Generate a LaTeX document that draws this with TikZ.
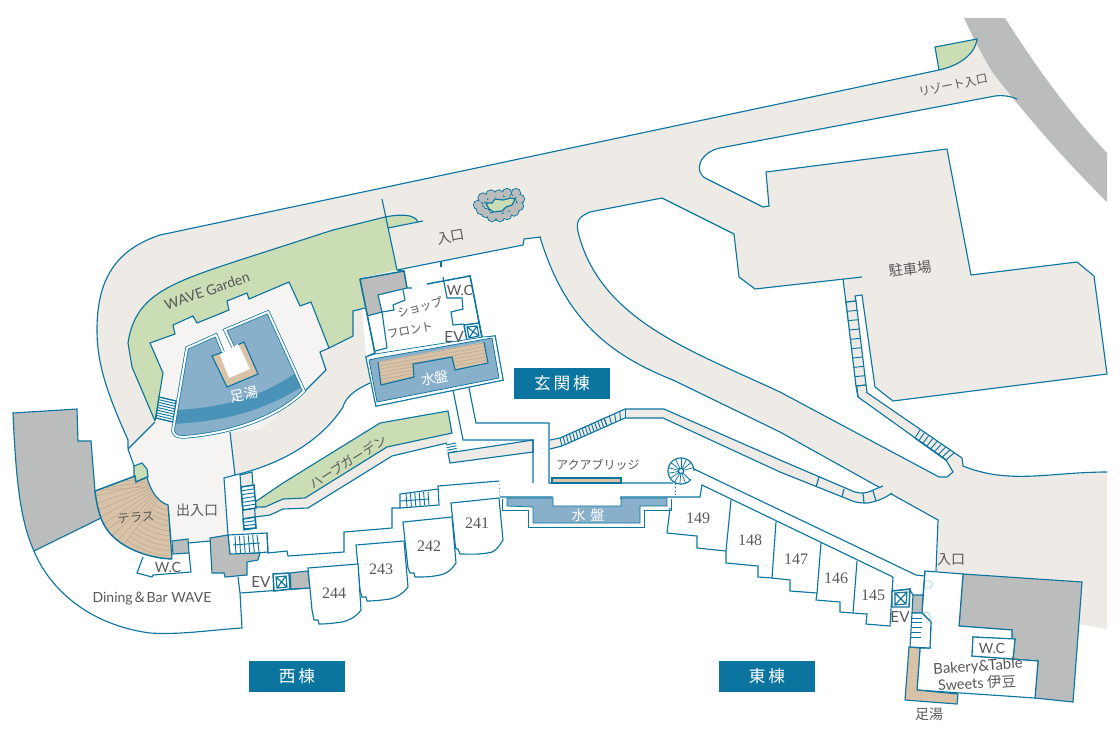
\documentclass[tikz,border=0pt]{standalone}
\usepackage{fontspec}
\setmainfont{Lato}
\newfontfamily\cjk{Noto Sans CJK JP}
\newfontfamily\numf{Liberation Serif}
\usetikzlibrary{calc}
\definecolor{teal}{HTML}{0B759F}
\definecolor{roadc}{HTML}{EEEBE7}
\definecolor{greenc}{HTML}{CBDDB4}
\definecolor{patioc}{HTML}{F5F4F3}
\definecolor{grayc}{HTML}{BBBDBC}
\definecolor{bluec}{HTML}{88B0CB}
\definecolor{darkb}{HTML}{4A93B8}
\definecolor{beigec}{HTML}{D8C3A8}
\definecolor{txt}{HTML}{595757}
\definecolor{hatchc}{HTML}{B8A58E}
\definecolor{doorc}{HTML}{9CCBDD}
\tikzset{
  wall/.style={draw=teal,line width=0.85pt,line join=miter},
  thin wall/.style={draw=teal,line width=0.55pt,line join=miter},
  thick wall/.style={draw=teal,line width=1.1pt,line join=miter},
  lab/.style={text=txt,font=\cjk\fontsize{10.5}{12}\selectfont,inner sep=0pt},
  lab small/.style={text=txt,font=\cjk\fontsize{9}{11}\selectfont,inner sep=0pt},
  lat/.style={text=txt,font=\fontsize{10.5}{12}\selectfont,inner sep=0pt},
  lat big/.style={text=txt,font=\fontsize{11.5}{13}\selectfont,inner sep=0pt},
  num/.style={text=txt,font=\numf\fontsize{12}{14}\selectfont,inner sep=0pt},
  wlab/.style={text=white,font=\cjk\fontsize{10.5}{12}\selectfont,inner sep=0pt},
  banner/.style={fill=teal,text=white,font=\cjk\fontsize{12.5}{14}\selectfont,minimum width=72pt,minimum height=23.2pt,inner sep=0pt},
  rung/.style={draw=teal,line width=0.7pt},
  hatch/.style={draw=hatchc,line width=0.35pt},
}
\newcommand{\rungs}[5]{\foreach \i in {0,...,#5}{\pgfmathsetmacro\tt{\i/#5}\draw[rung] ($#1!\tt!#2$) -- ($#3!\tt!#4$);}}
\begin{document}
\begin{tikzpicture}[x=0.75pt,y=-0.75pt]
\useasboundingbox (0,0) rectangle (1120,740);
% ---- big road
\fill[roadc] (128,448) -- (128,440) .. controls (108,395) and (97,365) .. (97,330)
  .. controls (97,280) and (115,250) .. (160,235) -- (939,70)
  .. controls (958,66) and (975,55) .. (977,39) -- (1017,99)
  .. controls (1010,96) and (1003,95) .. (995,96) -- (720,148)
  .. controls (700,152) and (692,172) .. (707,179) -- (763,207) -- (769,206) -- (766,172) -- (947,149)
  -- (971,275) -- (1077,262) -- (1094,276) -- (1107,374) -- (893,401) -- (875,387) -- (862,295) -- (855,296)
  -- (866,392) -- (962,458) -- (963,466) .. controls (1010,485) and (1050,472) .. (1107,472)
  -- (1107,629) -- (936,600) -- (938,520) -- (780,432) -- (673,380)
  .. controls (610,355) and (565,320) .. (540,237) -- (524,239) -- (523,245) -- (397,270) -- (360,278)
  -- (366,357) -- (370,383) .. controls (350,392) and (345,400) .. (343,407)
  .. controls (325,435) and (290,462) .. (235,475) -- (230,432) -- (155,422) -- cycle;
% gray band
\fill[grayc] (964,18) -- (1005,18) .. controls (1033,62) and (1065,108) .. (1107,153) -- (1107,202)
  .. controls (1062,158) and (1020,108) .. (993,73) .. controls (985,60) and (975,42) .. cycle;
% corner green
\path[fill=greenc,wall] (939,70) -- (935,47) -- (977,39) .. controls (975,55) and (958,66) .. cycle;
% road strokes
\draw[wall] (128,448) -- (128,440) .. controls (108,395) and (97,365) .. (97,330)
  .. controls (97,280) and (115,250) .. (160,235) -- (939,70);
\draw[wall] (1017,99) .. controls (1010,96) and (1003,95) .. (995,96) -- (720,148)
  .. controls (700,152) and (692,172) .. (707,179) -- (763,207) -- (769,206) -- (766,172) -- (947,149)
  -- (971,275) -- (1077,262) -- (1094,276) -- (1107,374) -- (893,401) -- (875,387) -- (862,295) -- (855,296) -- (856,301);
\draw[wall] (962,458) -- (963,466) .. controls (1010,485) and (1050,472) .. (1107,472);
% island
\path[fill=white,wall] (843,279) -- (858,397) -- (946,460) -- (953,472) -- (947,477) -- (939,477) -- (780,392)
  .. controls (690,350) and (600,320) .. (578,232) .. controls (576,222) and (578,217) .. (590,212)
  -- (662,198) -- (734,234) -- (739,277) -- (755,289) -- (862,277);
% path roof strip near stairs
\draw[wall] (866,392) -- (962,458);
\path[fill=roadc,wall] (846,302) -- (856,301) -- (866,385) -- (856,386) -- cycle;
\rungs{(846,302)}{(856,386)}{(856,301)}{(866,385)}{9}
\draw[wall] (856,386) -- (858,397) (866,385) -- (867,392);
\rungs{(915,438)}{(946,460)}{(920,430)}{(954,453)}{8}
\draw[thick wall] (915,438) -- (946,460);
% lower road edge
\draw[wall] (541,237) -- (524,239) -- (523,245) -- (397,270);
\draw[wall] (441,262) -- (441,267);
\draw[wall] (540,237) .. controls (565,320) and (610,355) .. (673,380) -- (780,432) -- (938,520) -- (936,571);
% pond
\begin{scope}
  \foreach \x/\y/\r in {478/205/4.5,483/198/5,491/195/5,499/195/5,507/193/4.5,516/193/4.5,520/199/4.5,519/206/4.5,514/211/5,507/215/4.5,500/217/4.5,496/214/4,492/217/4.5,486/213/4.5,481/210/4.5}{
    \draw[wall] (\x,\y) circle[radius=\r*0.75pt];}
  \foreach \x/\y/\r in {478/205/4.5,483/198/5,491/195/5,499/195/5,507/193/4.5,516/193/4.5,520/199/4.5,519/206/4.5,514/211/5,507/215/4.5,500/217/4.5,496/214/4,492/217/4.5,486/213/4.5,481/210/4.5}{
    \fill[grayc] (\x,\y) circle[radius={(\r-0.4)*0.75pt}];}
  \fill[grayc] (482,205) -- (490,198) -- (515,196) -- (516,208) -- (498,214) -- cycle;
  \path[fill=greenc,wall] (486,203) -- (492,203) -- (495,199) -- (503,200) -- (511,198) -- (515,199) -- (512,205) -- (506,207) -- (502,211) -- (494,212) -- (489,209) -- cycle;
\end{scope}
% green garden
\fill[greenc] (388,228) -- (418,222) .. controls (415,214) and (400,214) .. (385,217) -- (333,230) -- (240,260)
  .. controls (170,283) and (135,295) .. (128,343) -- (132,367) -- (155,421) -- (163,373) -- (150,343) -- (175,334)
  -- (173,325) -- (193,316) -- (197,323) -- (229,310) -- (227,301) -- (247,293) -- (249,299) -- (289,282) -- (300,306)
  -- (311,302) -- (329,348) -- (353,336) -- (353,311) -- (365,308) -- (360,278) -- (397,270) -- cycle;
\draw[wall] (423,221) -- (388,228);
\draw[wall] (418,222) .. controls (415,214) and (400,214) .. (385,217) -- (333,230) -- (240,260)
  .. controls (170,283) and (135,295) .. (128,343) -- (132,367) -- (155,421);
\draw[wall] (382,199) -- (397,270);
% patio
\path[fill=patioc,draw=none] (155,421) -- (163,373) -- (150,343) -- (175,334)
  -- (173,325) -- (193,316) -- (197,323) -- (229,310) -- (227,301) -- (247,293) -- (249,299) -- (289,282) -- (300,306)
  -- (311,302) -- (329,348) -- (320,352) -- (326,370) -- (304,392) -- (260,430) -- (230,432) -- (235,475) -- (224,478)
  -- (228,535) -- (210,541) -- (188,543) -- (172,541) -- (168,505) -- (152,490) -- (148,480) -- (134,466) -- (128,449) -- cycle;
\draw[wall] (155,421) -- (163,373) -- (150,343) -- (175,334)
  -- (173,325) -- (193,316) -- (197,323) -- (229,310) -- (227,301) -- (247,293) -- (249,299) -- (289,282) -- (300,306)
  -- (311,302) -- (329,348) -- (353,336) -- (353,311) -- (365,308);
\draw[wall] (329,348) -- (320,352) -- (326,370) -- (304,392);
\draw[wall] (230,432) -- (235,475) -- (224,478) -- (228,535);
\draw[wall] (128,449) -- (155,422);
\draw[wall] (128,449) -- (134,466);
\draw[wall] (168,505) -- (171,540);
\draw[wall] (188,543) -- (210,541);
\draw[wall] (370,383) .. controls (350,392) and (345,400) .. (343,407) .. controls (325,435) and (290,462) .. (235,475);
% pool stairs
\path[fill=white,wall] (159,397) -- (176,401) -- (173,422) -- (156,418) -- cycle;
\rungs{(159,397)}{(156,418)}{(176,401)}{(173,422)}{8}
% pool
\fill[bluec] (187,348) -- (268,312) -- (304,391)
  .. controls (280,415) and (237,433) .. (183,437) .. controls (176,437) and (173,434) .. (173,430) -- cycle;
\begin{scope}
  \clip (187,348) -- (216,335) -- (268,312) -- (304,391)
  .. controls (280,415) and (237,433) .. (183,437) .. controls (176,437) and (173,434) .. (173,430) -- cycle;
  \fill[darkb] (175,410) .. controls (225,408) and (265,395) .. (297,372) -- (303,386)
    .. controls (265,410) and (225,422) .. (170,424) -- cycle;
\end{scope}
\path[fill=beigec,wall] (212,356) -- (223,352) -- (233,347) -- (244,342) -- (258,374) -- (227,387) -- cycle;
\fill[white] (217,333) -- (225,330) -- (233,347) -- (238,344) -- (250,369) -- (229,378) -- (220,355) -- (223,352) -- cycle;
\draw[draw=teal,double=white,line width=0.55pt,double distance=1.5pt,line join=miter]
  (223,352) -- (216,335) -- (187,348) -- (173,430) .. controls (173,434) and (176,437) .. (183,437)
  .. controls (237,433) and (280,415) .. (304,391) -- (268,312) -- (225,330) -- (233,347);
% herb garden band
\path[fill=roadc] (255,507) -- (265,507) -- (283,499) -- (305,498) -- (387,447) -- (452,433) -- (447,443) -- (392,456) -- (308,508) -- (283,509) -- (270,515) -- (255,517) -- cycle;
\draw[wall] (255,517) -- (270,515) -- (283,509) -- (308,508) -- (392,456) -- (447,443);
\path[fill=greenc,wall] (255,502) -- (283,483) -- (380,423) -- (448,411) -- (452,433) -- (387,447) -- (305,498) -- (283,499) -- (265,507) -- (255,507) -- cycle;
% small walk
\path[fill=roadc,wall] (448,453) -- (533,440) -- (533,452) -- (450,463) -- cycle;
\rungs{(446,445)}{(448,453)}{(456,443)}{(457,451)}{3}
% walls below water
\draw[wall] (453,390) -- (463,440) -- (533,440) -- (533,483);
\draw[wall] (469,388) -- (476,423) -- (549,423) -- (549,483) -- (673,483);
\draw[wall] (500,497) -- (552,497) -- (553,506) -- (620,506) -- (621,497) -- (675,497);
\draw[draw=teal,dotted,line width=0.6pt] (499,481) -- (500,497) (675,483) -- (675,497);
% west wing walls
\draw[wall] (499,481) -- (438,486) -- (439,505) -- (400,508) -- (400,494) -- (438,489);
\draw[wall] (400,508) -- (392,508) -- (392,528) -- (344,532) -- (344,552) -- (288,556) -- (287,551) -- (268,553) -- (267,533) -- (228,535);
\draw[wall] (268,553) -- (267,533);
\rungs{(406,493)}{(428,492)}{(407,507)}{(429,505)}{5}
\draw[rung] (400,501) -- (429,499);
\path[wall] (228,535) -- (230,555) -- (268,552);
\rungs{(235,536)}{(257,535)}{(236,554)}{(259,552)}{5}
\draw[rung] (233,545) -- (260,543);
% vertical stair bar
\path[fill=roadc,wall] (240,475) -- (252,472) -- (256,528) -- (244,530) -- cycle;
\path[fill=white,thick wall] (241,487) -- (254,485) -- (256,508) -- (243,510) -- cycle;
\rungs{(241,487)}{(243,510)}{(254,485)}{(256,508)}{6}
\path[fill=white,thick wall] (243,519) -- (255,517) -- (256,528) -- (244,529) -- cycle;
\rungs{(243,519)}{(244,529)}{(255,517)}{(256,528)}{3}
% gray block west
\path[fill=grayc,wall] (210,538) -- (228,535) -- (230,554) -- (260,553) -- (258,560) -- (247,562) -- (247,575) -- (225,577) -- (224,573) -- (212,573) -- cycle;
\draw[wall] (238,577) -- (240,593) -- (242,628) .. controls (210,630) and (180,635) .. (150,633)
  .. controls (90,625) and (50,590) .. (34,551);
\draw[wall] (240,593) -- (310,588);
\path[fill=grayc,wall] (290,573) -- (308,571) -- (310,588) -- (291,589) -- cycle;
\path[fill=white,thick wall] (273,574) -- (289,573) -- (290,589) -- (274,591) -- cycle;
\draw[wall] (276,577) -- (286,576) -- (287,587) -- (277,588) -- cycle (276,577) -- (287,587) (286,576) -- (277,588);
% gray big west
\path[fill=grayc,wall] (13,413) -- (77,409) -- (78,441) -- (91,441) -- (95,491) -- (101,518) -- (34,551)
  .. controls (20,520) and (16,480) .. cycle;
% terrace
\path[fill=greenc,wall] (134,466) -- (142,463) -- (147,469) -- (148,477) -- (136,482) -- (134,475) -- cycle;
\def\terr{(95,491) -- (135,476) -- (136,482) -- (147,477) .. controls (150,490) and (158,502) .. (168,505) -- (172,559)
  .. controls (145,558) and (110,545) .. (101,518) .. controls (98,510) and (96,500) .. cycle}
\path[fill=beigec,draw=none] \terr;
\begin{scope}
  \clip \terr;
  \foreach \a in {127,132,...,200} {\draw[hatch] ({174+20*cos(\a)},{478+20*sin(\a)}) -- ({174+95*cos(\a)},{478+95*sin(\a)});}
  \foreach \r in {33,38,...,83} {\draw[hatch] plot[domain=88:127,samples=10] ({174+\r*cos(\x)},{478+\r*sin(\x)});}
  \draw[hatch] (100,490) -- (146,487);
\end{scope}
\draw[thick wall] (172,559) .. controls (145,558) and (110,545) .. (101,518) .. controls (98,510) and (96,500) .. (95,491) -- (135,476) -- (136,482) -- (147,477);
\draw[wall] (147,477) .. controls (150,490) and (158,502) .. (168,505) -- (172,559);
% terrace wc + gray
\path[fill=grayc,wall] (172,541) -- (188,539) -- (189,553) -- (173,554) -- cycle;
\draw[wall] (143,557) -- (137,573) -- (152,577) -- (153,575) -- (191,572) -- (189,553);
% west shops
\path[fill=white,wall] (451,503) -- (499,498) -- (503,540) .. controls (498,548) and (495,551) .. (492,552) .. controls (480,555) and (470,554) .. (460,554) -- (458,549) -- (456,549) -- (455,543) -- cycle;
\path[fill=white,wall] (403,522) -- (452,517) -- (456,563) .. controls (450,572) and (445,574) .. (440,575) .. controls (430,577) and (425,577) .. (415,577) -- (414,573) -- (410,573) -- (408,568) -- cycle;
\path[fill=white,wall] (356,545) -- (404,541) -- (408,587) .. controls (403,594) and (397,597) .. (390,599) .. controls (382,600) and (375,601) .. (367,601) -- (366,597) -- (362,597) -- (360,590) -- cycle;
\path[fill=white,wall] (308,568) -- (358,564) -- (361,610) .. controls (356,617) and (350,620) .. (342,622) .. controls (335,623) and (328,624) .. (319,624) -- (318,620) -- (314,620) -- (312,610) -- cycle;
% mid walkway with stairs
\path[fill=roadc] (550,440) -- (560,438) -- (625,409) -- (664,409) -- (780,460) -- (860,493) -- (873,490) -- (892,484) -- (892,493) .. controls (880,500) and (872,503) .. (863,503) .. controls (858,503) and (854,502) .. (850,500) -- (780,472) -- (663,418) -- (625,418) -- (562,446) -- (550,449) -- cycle;
\draw[wall] (550,440) -- (560,438) -- (625,409) -- (664,409) -- (780,460) -- (850,490) .. controls (858,494) and (866,494) .. (873,490) -- (883,486);
\draw[wall] (550,449) -- (562,446) -- (625,418) -- (663,418) -- (780,472) -- (850,500) .. controls (856,503) and (862,503) .. (868,503) .. controls (878,501) and (885,498) .. (892,493);
\rungs{(560,438)}{(604,418)}{(562,446)}{(607,426)}{14}
\rungs{(604,418)}{(625,409)}{(607,426)}{(625,418)}{4}
\draw[wall] (819,477) -- (816,487) (844,489) -- (842,497) (863,493) -- (864,503) (873,491) -- (876,501);
% aqua bridge beige
\path[fill=beigec,wall] (552,483) -- (552,478) -- (621,478) -- (621,483) -- cycle;
% aqua water
\path[fill=white,thin wall] (502,499) -- (502,510) -- (528,510) -- (528,527) -- (644,527) -- (644,510) -- (671,510) -- (671,499);
\path[fill=bluec,thin wall] (507,498) -- (507,506) -- (533,507) -- (533,523) -- (640,523) -- (640,506) -- (667,506) -- (667,498) -- (621,498) -- (621,506) -- (553,506) -- (553,498) -- cycle;
% spiral
\coordinate (sp) at (681,471);
\fill[white] (sp) circle[radius=9.75pt];
\foreach \a in {45,70,...,360} {\draw[rung,line width=0.55pt] ($(sp)+({2.5*cos(\a)},{2.5*sin(\a)})$) -- ($(sp)+({13*cos(\a)},{13*sin(\a)})$);}
\draw[wall] plot[domain=40:360,samples=50] ({681+13*cos(\x)},{471+13*sin(\x)});
\draw[wall] (sp) circle[radius=1.9pt];
\draw[draw=teal,dotted,line width=0.6pt] (675,484) -- (675,497);
% east wing
\draw[wall] (694,469) -- (916,575) -- (925,576);
\draw[wall] (675,497) -- (700,497) -- (702,485) -- (893,577);
\draw[wall] (670,508) -- (667,533) -- (697,536) -- (697,548) -- (726,551) -- (731,500);
\draw[wall] (726,551) -- (726,563) -- (758,566) -- (758,577) -- (772,578) -- (776,522);
\draw[wall] (772,578) -- (790,580) -- (790,591) -- (817,593) -- (821,543);
\draw[wall] (817,593) -- (816,600) -- (840,602) -- (840,612) -- (853,613) -- (857,561);
\draw[wall] (853,613) -- (867,614) -- (866,624) -- (890,626) -- (893,577);
% east EV
\path[fill=white,thick wall] (892,591) -- (910,589) -- (909,607) -- (892,607) -- cycle;
\draw[wall] (895,593) -- (907,592) -- (906,604) -- (895,605) -- cycle (895,593) -- (906,604) (907,592) -- (895,605);
% bakery
\path[fill=grayc,wall] (963,574) -- (1082,582) -- (1073,702) -- (1035,698) -- (1038,661) -- (1013,659) -- (1015,639) -- (1012,639) -- (1012,630) -- (959,626) -- cycle;
\path[fill=white,wall] (925,571) -- (963,574) -- (959,626) -- (1012,630) -- (1012,639) -- (973,637) -- (972,656) -- (1038,661) -- (1035,698) -- (917,690) -- (920,648) -- (930,648) -- (931,622) -- (922,613) -- cycle;
\path[fill=white,wall] (973,637) -- (1015,639) -- (1013,659) -- (972,656) -- cycle;
\path[fill=beigec,wall] (909,647) -- (920,648) -- (917,690) -- (958,694) -- (957,704) -- (905,700) -- cycle;
\draw[wall] (925,571) -- (923,595);
\path[fill=grayc,wall] (913,595) -- (923,595) -- (922,613) -- (912,613) -- cycle;
\draw[wall] (910,590) -- (913,595);
\path[fill=white,wall] (912,613) -- (922,613) -- (931,622) -- (930,648) -- (910,647) -- cycle;
\rungs{(912,618)}{(911,637)}{(922,618)}{(921,637)}{4}
\draw[doorc,line width=0.5pt] (925,581) .. controls (930,580) and (934,582) .. (932,586) .. controls (931,588) and (928,589) .. (925,588);
\draw[doorc,line width=0.5pt] (922,613) .. controls (926,610) and (932,613) .. (931,622);
% --- building genkan
\path[fill=white,thick wall] (360,279) -- (375,353) -- (366,357) -- (376,406) -- (503,380) -- (495,336) -- (482,338) -- (470,276) -- (443,281);
\draw[wall] (397,270) -- (404,271);
\path[fill=white,draw=none] (360,279) -- (404,271) -- (470,276) -- (482,338) -- (375,353) -- cycle;
\path[fill=grayc,draw=none] (360,279) -- (404,271) -- (407,288) -- (378,295) -- (382,312) -- (367,316) -- cycle;
\draw[thick wall] (360,279) -- (404,271) -- (407,288) -- (412,288);
\draw[thick wall] (360,279) -- (375,353);
\draw[thick wall] (427,284) -- (470,276) -- (482,338);
\draw[wall] (443,277) -- (447,298) -- (462,298) -- (463,309) -- (451,312) -- (453,325) -- (464,324);
\draw[wall] (407,288) -- (378,295) -- (382,312) -- (367,316) (382,312) -- (394,310) -- (393,305) -- (405,300) -- (403,290);
\draw[wall] (382,312) -- (387,348) -- (375,351);
% EV genkan
\path[fill=white,thick wall] (464,325) -- (479,323) -- (482,338) -- (467,341) -- cycle;
\draw[wall] (467,327) -- (477,326) -- (479,336) -- (469,338) -- cycle (467,327) -- (479,336) (477,326) -- (469,338);
% water genkan
\path[fill=white,thin wall] (366,357) -- (375,354) -- (483,337) -- (495,336) -- (503,380) -- (376,406) -- cycle;
\path[fill=bluec,thin wall] (369,360) -- (378,358) -- (492,338) -- (499,378) -- (377,402) -- cycle;
\def\deck{(377,362) -- (484,342) -- (488,363) -- (455,370) -- (452,357) -- (413,364) -- (414,377) -- (381,385) -- cycle}
\path[fill=beigec] \deck;
\begin{scope}
  \clip \deck;
  \foreach \k in {0,3.5,...,45} {\draw[hatch] (370,{364+\k}) -- (495,{341+\k});}
\end{scope}
\draw[wall] (378,362) -- (381,385) -- (414,377) -- (413,364) -- (452,357) -- (455,370) -- (488,363) -- (484,342);
% labels
\node[banner] (bgenkan) at (562,383.5) {玄\,関\,棟};
\node[banner] (bwest) at (297,676.5) {西\,棟};
\node[banner] (beast) at (767,676.5) {東\,棟};
\node[lab small,rotate=12,font=\cjk\fontsize{8.8}{11}\selectfont] (resort) at (953,85) {リゾート入口};
\node[lab,rotate=10] (iri1) at (451,237) {入口};
\node[lab,rotate=7,font=\cjk\fontsize{10.7}{12}\selectfont] (park) at (910,269) {駐車場};
\node[lat,rotate=19] (wave) at (207,291) {WAVE Garden};
\node[wlab,rotate=12] (ashi1) at (244,394) {足湯};
\node[lab small,rotate=16,font=\cjk\fontsize{8.7}{11}\selectfont] (shop) at (420,307) {ショップ};
\node[lab small,rotate=11,font=\cjk\fontsize{8.7}{11}\selectfont] (front) at (410,330) {フロント};
\node[lat] (wc1) at (460,290) {W.C};
\node[lat big] (ev1) at (454,337) {EV};
\node[wlab,rotate=10] (mizu1) at (435,378) {水盤};
\node[lab small,rotate=32,font=\cjk\fontsize{9.5}{11}\selectfont] (herb) at (348,462) {ハーブガーデン};
\node[lab small] (aqua) at (598,465) {アクアブリッジ};
\node[wlab] (mizu2) at (588,515) {水\,\,盤};
\node[lab small,rotate=5,font=\cjk\fontsize{9.3}{11}\selectfont] (terr) at (136,518) {テラス};
\node[lab] (dei) at (197,510) {出入口};
\node[lat] (wc2) at (168,567) {W.C};
\node[lat] (din) at (152,599) {Dining{\cjk ＆}Bar WAVE};
\node[lat big] (ev2) at (261,582) {EV};
\node[lab] (iri2) at (951,560) {入口};
\node[lat big] (ev3) at (900,617) {EV};
\node[lat,rotate=4,font=\fontsize{11.2}{13}\selectfont] (bak1) at (978,667) {Bakery\&Table};
\node[lat,rotate=3,font=\fontsize{10.8}{13}\selectfont] (bak2) at (977,683) {Sweets {\cjk 伊豆}};
\node[lat] (wc3) at (992,648) {W.C};
\node[lab] (ashi2) at (929,714) {足湯};
\node[num] (n241) at (477,523) {241};
\node[num] (n242) at (429,546) {242};
\node[num] (n243) at (381,569) {243};
\node[num] (n244) at (334,593) {244};
\node[num] (n149) at (698,518) {149};
\node[num] (n148) at (750,540) {148};
\node[num] (n147) at (796,559) {147};
\node[num] (n146) at (836,578) {146};
\node[num] (n145) at (873,595) {145};
\end{tikzpicture}
\end{document}
